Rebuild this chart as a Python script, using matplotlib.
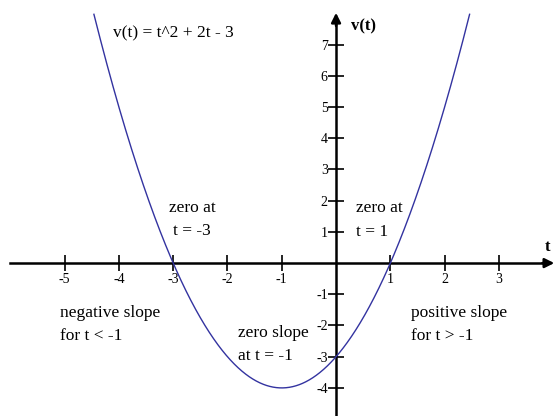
import numpy as np
import matplotlib
matplotlib.use("Agg")
import matplotlib.pyplot as plt

plt.rcParams["font.family"] = ["Liberation Serif", "DejaVu Serif"]
plt.rcParams["axes.unicode_minus"] = False

# v(t) = a t^2 + b t + c
coeffs = [1, 2, -3]
v_max = 8.0  # curve is cut off above this value

x_ticks = [-5, -4, -3, -2, -1, 1, 2, 3]
y_ticks = [-4, -3, -2, -1, 1, 2, 3, 4, 5, 6, 7]

notes = [
    ("v(t) = t^2 + 2t - 3", -4.11, 7.37, "left"),
    ("zero at\nt = -3", -2.65, 1.39, "center"),
    ("zero at\nt = 1", 0.37, 1.38, "left"),
    ("negative slope\nfor t < -1", -5.08, -1.97, "left"),
    ("zero slope\nat t = -1", -1.80, -2.60, "left"),
    ("positive slope\nfor t > -1", 1.38, -1.97, "left"),
]


def main():
    fig = plt.figure(figsize=(5.57, 4.16), dpi=100)
    ax = fig.add_axes([0, 0, 1, 1])
    ax.set_xlim(-6.19, 4.07)
    ax.set_ylim(-4.90, 8.43)

    t = np.linspace(-6, 4, 2001)
    v = np.polyval(coeffs, t)
    keep = v <= v_max
    ax.plot(t[keep], v[keep], color="#3333a0", lw=1.0, zorder=3)

    # axes through the origin
    for side in ("top", "right"):
        ax.spines[side].set_visible(False)
    ax.spines["left"].set_position(("data", 0))
    ax.spines["bottom"].set_position(("data", 0))
    ax.spines["bottom"].set_bounds(-6.0, 3.9)
    ax.spines["left"].set_bounds(-4.90, 7.8)
    for side in ("left", "bottom"):
        ax.spines[side].set_linewidth(1.8)

    ax.annotate("", xy=(4.02, 0), xytext=(3.8, 0),
                arrowprops=dict(arrowstyle="-|>", color="black", lw=1.8,
                                mutation_scale=14, shrinkA=0, shrinkB=0))
    ax.annotate("", xy=(0, 8.02), xytext=(0, 7.6),
                arrowprops=dict(arrowstyle="-|>", color="black", lw=1.8,
                                mutation_scale=14, shrinkA=0, shrinkB=0))

    ax.set_xticks(x_ticks)
    ax.set_yticks(y_ticks)
    ax.set_xticklabels([str(x) for x in x_ticks])
    ax.set_yticklabels([str(y) for y in y_ticks])
    ax.tick_params(direction="inout", length=12, width=1.2, labelsize=10, pad=1)
    ax.tick_params(axis="y", pad=0)

    ax.text(0.28, 7.6, "v(t)", fontsize=12, fontweight="bold", va="center", ha="left")
    ax.text(3.89, 0.51, "t", fontsize=12, fontweight="bold", va="center", ha="center")

    for label, x, y, align in notes:
        ax.text(x, y, label, fontsize=12.5, ha=align, va="center",
                multialignment=align, linespacing=1.6)

    fig.savefig("out.png", dpi=100)
    plt.close(fig)


if __name__ == "__main__":
    main()
